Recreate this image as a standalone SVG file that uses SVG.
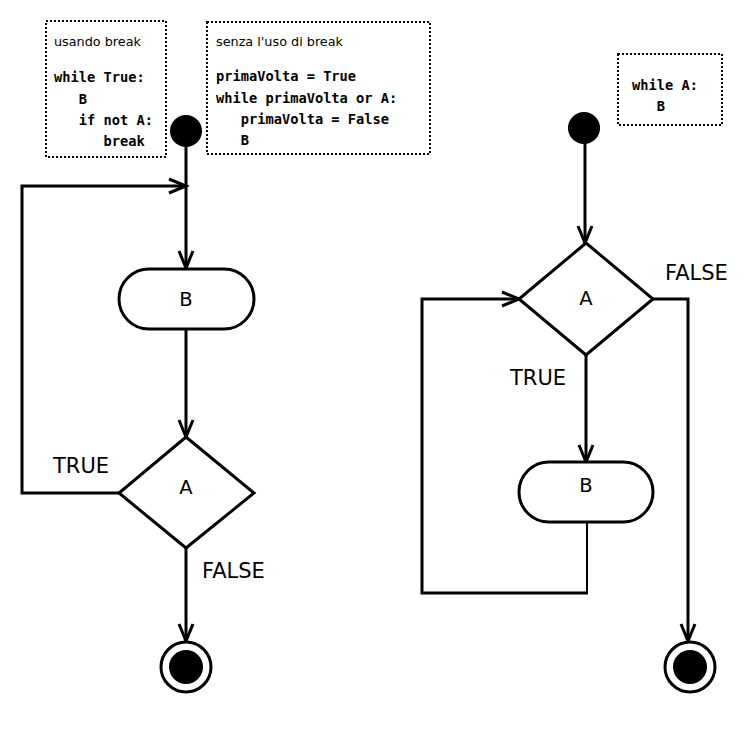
<svg xmlns="http://www.w3.org/2000/svg" width="748" height="756" viewBox="0 0 748 756">
<style>
.ln{fill:none;stroke:#000;stroke-width:3;stroke-linejoin:miter}
.thin{fill:none;stroke:#000;stroke-width:2}
.shape{fill:#fff;stroke:#000;stroke-width:3}
.note{fill:#fff;stroke:#000;stroke-width:2;stroke-dasharray:2 2}
.lbl{font-family:"DejaVu Sans",sans-serif;font-size:19.5px;fill:#000;text-anchor:middle}
.cond{font-family:"DejaVu Sans",sans-serif;font-size:21px;fill:#000}
.small{font-family:"DejaVu Sans",sans-serif;font-size:12.8px;fill:#000}
.code{font-family:"DejaVu Sans Mono",monospace;font-size:13.7px;font-weight:bold;fill:#000;white-space:pre}
</style>
<defs>
<marker id="arr" markerUnits="userSpaceOnUse" markerWidth="24" markerHeight="20" refX="18" refY="8" orient="auto" viewBox="0 0 24 16">
<path d="M1,1 L18,8 L1,15" fill="none" stroke="#000" stroke-width="3"/>
</marker>
</defs>

<g id="note1">
<rect class="note" x="46" y="21" width="120" height="136"/>
<text class="small" x="54" y="46">usando break</text>
<text class="code" x="54" y="82">while True:</text>
<text class="code" x="54" y="104">   B</text>
<text class="code" x="54" y="125">   if not A:</text>
<text class="code" x="54" y="146">      break</text>
</g>
<g id="note2">
<rect class="note" x="207" y="22" width="223" height="132"/>
<text class="small" x="216" y="46">senza l'uso di break</text>
<text class="code" x="216" y="81">primaVolta = True</text>
<text class="code" x="216" y="103">while primaVolta or A:</text>
<text class="code" x="216" y="124">   primaVolta = False</text>
<text class="code" x="216" y="145">   B</text>
</g>
<g id="note3">
<rect class="note" x="618" y="54" width="104" height="71"/>
<text class="code" x="632" y="90">while A:</text>
<text class="code" x="632" y="111">   B</text>
</g>

<g id="connectors">
<path class="ln" d="M186,131 L186,268" marker-end="url(#arr)"/>
<path class="ln" d="M119,493 L22,493 L22,186 L186,186" marker-end="url(#arr)"/>
<path class="ln" d="M186,329 L186,437" marker-end="url(#arr)"/>
<path class="ln" d="M186,548 L186,641" marker-end="url(#arr)"/>
<path class="ln" d="M585,128 L585,243" marker-end="url(#arr)"/>
<path class="ln" d="M586,355 L586,462" marker-end="url(#arr)"/>
<path class="thin" d="M587,522 L587,593"/>
<path class="ln" d="M588,593 L422,593 L422,299 L519,299" marker-end="url(#arr)"/>
<path class="ln" d="M653,299 L688,299 L688,641" marker-end="url(#arr)"/>
<text class="cond" x="53" y="473">TRUE</text>
<text class="cond" x="202" y="578">FALSE</text>
<text class="cond" x="665" y="280">FALSE</text>
<text class="cond" x="510" y="385">TRUE</text>
</g>

<g id="start1"><circle cx="186" cy="131" r="16" fill="#000"/></g>
<g id="actB1">
<rect class="shape" x="119" y="269" width="135" height="60" rx="30" ry="30"/>
<text class="lbl" x="186" y="306">B</text>
</g>
<g id="decA1">
<polygon class="shape" points="186,437 254,493 186,548 119,493"/>
<text class="lbl" x="186" y="494">A</text>
</g>
<g id="end1">
<circle cx="186" cy="667" r="25" fill="#fff" stroke="#000" stroke-width="3"/>
<circle cx="186" cy="667" r="17" fill="#000"/>
</g>

<g id="start2"><circle cx="584" cy="128" r="16" fill="#000"/></g>
<g id="decA2">
<polygon class="shape" points="586,243 653,299 586,355 519,299"/>
<text class="lbl" x="586" y="305">A</text>
</g>
<g id="actB2">
<rect class="shape" x="519" y="462" width="134" height="60" rx="30" ry="30"/>
<text class="lbl" x="586" y="492">B</text>
</g>
<g id="end2">
<circle cx="690" cy="667" r="25" fill="#fff" stroke="#000" stroke-width="3"/>
<circle cx="690" cy="667" r="17" fill="#000"/>
</g>
</svg>
